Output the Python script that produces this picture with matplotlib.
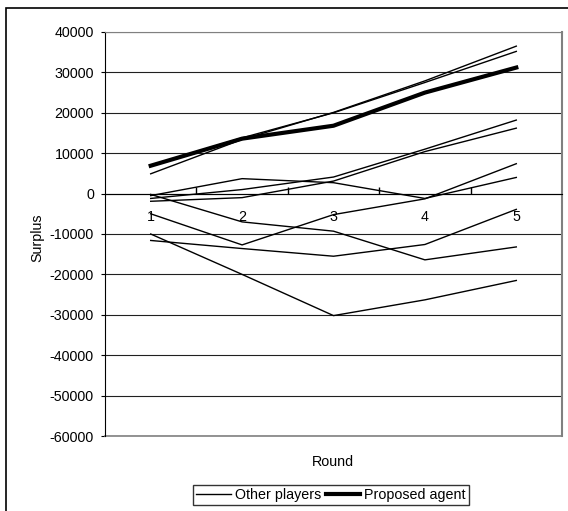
import matplotlib
matplotlib.use('Agg')
import matplotlib.pyplot as plt
from matplotlib.patches import Rectangle
from matplotlib.lines import Line2D

rounds = [1, 2, 3, 4, 5]

# surplus of the other players, one list per player
other_1 = [7000, 13800, 20000, 27500, 35200]
other_2 = [4900, 13400, 20100, 27900, 36500]
other_3 = [-1200, 1000, 4100, 11000, 18200]
other_4 = [-1900, -1000, 3100, 10400, 16200]
other_5 = [-500, 3700, 2700, -1200, 4000]
other_6 = [-5000, -12700, -5200, -1300, 7400]
other_7 = [-200, -7000, -9300, -16400, -13200]
other_8 = [-10000, -20000, -30200, -26300, -21500]
other_9 = [-11600, -13600, -15500, -12600, -3900]
others = [other_1, other_2, other_3, other_4, other_5,
          other_6, other_7, other_8, other_9]

agent = [6900, 13600, 16800, 25000, 31200]

y_ticks = list(range(-60000, 40001, 10000))

plt.rcParams['font.family'] = ['Liberation Sans', 'DejaVu Sans']
plt.rcParams['font.size'] = 10.3

W, H = 568, 511
fig = plt.figure(figsize=(W / 100, H / 100), dpi=100)

# outer chart frame
fig.patches.append(Rectangle((6 / W, -0.01), 1.0, 1 - 8 / H + 0.01,
                             transform=fig.transFigure, fill=False,
                             edgecolor='black', linewidth=1.2))

ax = fig.add_axes([105 / W, 1 - 436 / H, (562 - 105) / W, (436 - 32) / H])

for vals in others:
    ax.plot(rounds, vals, color='black', linewidth=1.0)
ax.plot(rounds, agent, color='black', linewidth=3.0)

ax.set_xlim(0.5, 5.5)
ax.set_ylim(-60000, 40000)
ax.set_yticks(y_ticks)
ax.set_yticklabels([str(v) for v in y_ticks])
ax.yaxis.grid(True, color='#202020', linewidth=0.8)
ax.set_axisbelow(True)

ax.spines['top'].set_color('#808080')
ax.spines['right'].set_color('#808080')
ax.spines['right'].set_linewidth(1.5)
ax.spines['left'].set_color('black')
ax.spines['bottom'].set_position(('data', 0))
ax.spines['bottom'].set_color('black')
# gray bottom edge of the plot area
ax.axhline(-60000, color='#808080', linewidth=1.2, clip_on=False)

ax.set_xticks(rounds)
ax.set_xticks([1.5, 2.5, 3.5, 4.5], minor=True)
ax.tick_params(axis='x', which='major', length=0, pad=12)
ax.tick_params(axis='x', which='minor', direction='in', length=5, width=1)
ax.tick_params(axis='y', direction='out', length=3, pad=5)

fig.text(37 / W, 1 - 238 / H, 'Surplus', rotation=90, ha='center', va='center')
fig.text(333 / W, 1 - 462 / H, 'Round', ha='center', va='center')

handles = [Line2D([], [], color='black', linewidth=1.0),
           Line2D([], [], color='black', linewidth=3.0)]
leg = fig.legend(handles, ['Other players', 'Proposed agent'], ncol=2,
                 loc='center', bbox_to_anchor=(331 / W, 1 - 495 / H),
                 frameon=True, fancybox=False, edgecolor='black',
                 handlelength=2.4, handletextpad=0.3, columnspacing=0.3,
                 borderpad=0.2, borderaxespad=0)
leg.get_frame().set_linewidth(1.0)

fig.savefig('out.png', dpi=100)
